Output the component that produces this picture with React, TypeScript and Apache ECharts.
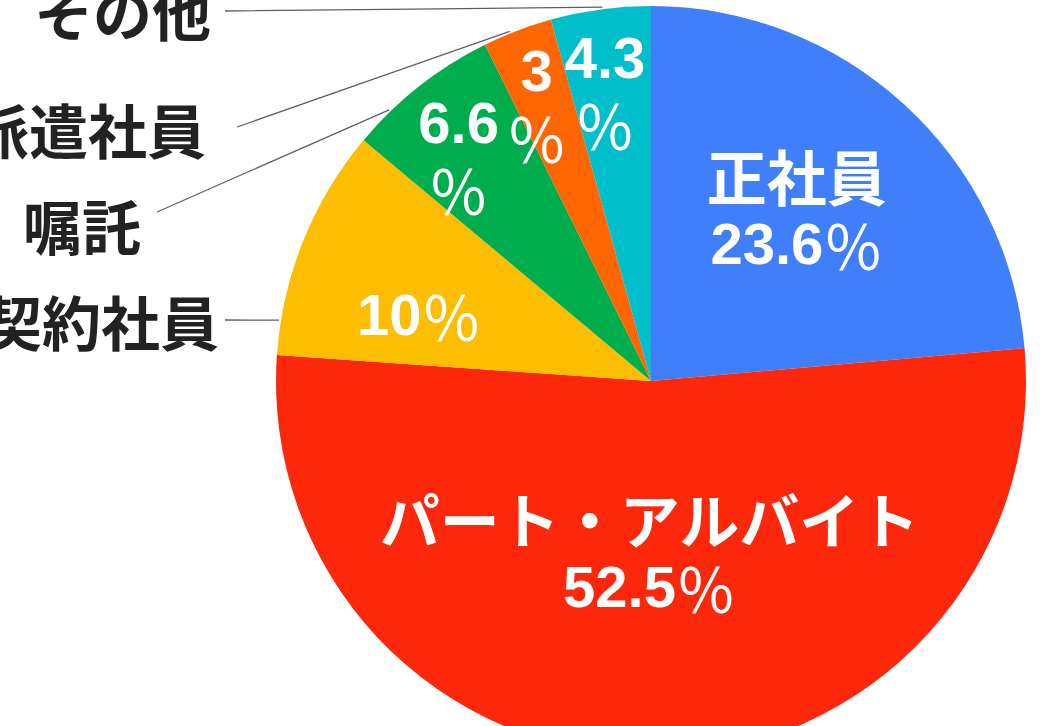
import React, { useEffect, useRef } from 'react';
import * as echarts from 'echarts';

// ---- data ----
const categories = ['正社員', 'パート・アルバイト', '契約社員', '嘱託', '派遣社員', 'その他'];
const values = [23.6, 52.5, 10, 6.6, 3, 4.3];

// ---- styles / layout ----
const colors = ['#3f7ffb', '#fd270c', '#fdbd00', '#00ad4c', '#ff6500', '#00bfcb'];
const CX = 651;
const CY = 381;
const R = 375;
const FONT = "'Liberation Sans', 'Noto Sans CJK JP', sans-serif";
const CJK = "'Noto Sans CJK JP', sans-serif";
const insideLabelMode = ['full', 'full', 'inline', 'stack', 'stack', 'stack'];
// [angle deg clockwise from top, radius fraction]
const insideLabelPolar = [[40, 0.605], [180.5, 0.453], [286, 0.643], [319.5, 0.79], [337.6, 0.8], [351, 0.784]];
const showOuter = [false, false, true, true, true, true];
// label right edge x, center y
const outerLabelAnchor: (number[] | null)[] = [null, null, [219, 320], [141, 224], [206, 128], [211, 10]];
const outerLineStart: (number[] | null)[] = [null, null, [225, 320], [157, 212], [237, 127], [225, 11]];
const outerLineEndAngle: (number | null)[] = [null, null, 279.3, 316, 338, 352.6];

export default function App() {
  const ref = useRef<HTMLDivElement>(null);
  useEffect(() => {
    if (!ref.current) return;
    const chart = echarts.init(ref.current, undefined, { renderer: 'svg' });
    const polar = (deg: number, r: number) => {
      const a = (deg * Math.PI) / 180;
      return [CX + r * Math.sin(a), CY - r * Math.cos(a)];
    };
    const option = {
      animation: false,
      backgroundColor: '#ffffff',
      series: [
        {
          type: 'pie',
          center: [CX, CY],
          radius: R,
          startAngle: 90,
          clockwise: true,
          avoidLabelOverlap: false,
          silent: true,
          itemStyle: { borderWidth: 0 },
          data: categories.map((name, i) => ({ name, value: values[i], itemStyle: { color: colors[i] } })),
          label: {
            show: true,
            position: 'inside',
            color: '#ffffff',
            fontFamily: FONT,
            formatter: (p: any) => {
              const i = p.dataIndex;
              const v = String(values[i]);
              const mode = insideLabelMode[i];
              if (mode === 'full') return `{t|${categories[i]}}\n{n|${v}}{p|％}`;
              if (mode === 'inline') return `{n|${v}}{p|％}`;
              return `{n|${v}}\n{p|％}`;
            },
            rich: {
              t: { fontSize: 60, fontWeight: 'bold', color: '#fff', fontFamily: CJK, lineHeight: 72, align: 'center' },
              n: { fontSize: 58, fontWeight: 'bold', color: '#fff', fontFamily: FONT, lineHeight: 66, align: 'center' },
              p: { fontSize: 60, fontWeight: 'normal', color: '#fff', fontFamily: CJK, lineHeight: 66, align: 'center' },
            },
          },
          labelLine: { show: false },
          labelLayout: (p: any) => {
            const [a, f] = insideLabelPolar[p.dataIndex];
            const [x, y] = polar(a, R * f);
            return { x, y, align: 'center', verticalAlign: 'middle' };
          },
        },
        {
          type: 'pie',
          center: [CX, CY],
          radius: R,
          startAngle: 90,
          clockwise: true,
          avoidLabelOverlap: false,
          silent: true,
          data: categories.map((name, i) => ({
            name,
            value: values[i],
            itemStyle: { color: 'rgba(0,0,0,0)' },
            label: { show: showOuter[i] },
            labelLine: { show: showOuter[i] },
          })),
          label: {
            position: 'outside',
            color: '#222222',
            fontSize: 59,
            fontWeight: 'bold',
            fontFamily: CJK,
            formatter: '{b}',
          },
          labelLine: {
            show: true,
            length: 10,
            length2: 10,
            lineStyle: { color: '#5f5f5f', width: 1.3 },
          },
          labelLayout: (p: any) => {
            const i = p.dataIndex;
            const anc = outerLabelAnchor[i];
            const st = outerLineStart[i];
            const ang = outerLineEndAngle[i];
            if (!anc || !st || ang == null) return {};
            const end = polar(ang, R + 2);
            const mid = [(end[0] + st[0]) / 2, (end[1] + st[1]) / 2];
            return {
              x: anc[0],
              y: anc[1],
              align: 'right',
              verticalAlign: 'middle',
              labelLinePoints: [end, mid, st],
            };
          },
        },
      ],
    };
    chart.setOption(option as any);
    return () => chart.dispose();
  }, []);
  return <div ref={ref} style={{ position: 'absolute', left: 0, top: 0, width: 1040, height: 726 }} />;
}
